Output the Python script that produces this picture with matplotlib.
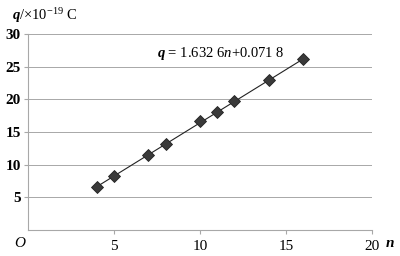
import numpy as np
import matplotlib.pyplot as plt

plt.rcParams['font.family'] = ['Liberation Serif', 'DejaVu Serif']
plt.rcParams['mathtext.fontset'] = 'custom'
plt.rcParams['mathtext.rm'] = 'Liberation Serif'
plt.rcParams['mathtext.it'] = 'Liberation Serif:italic'
plt.rcParams['mathtext.bf'] = 'Liberation Serif:italic:bold'

n = [4, 5, 7, 8, 10, 11, 12, 14, 16]
q = [6.6, 8.2, 11.5, 13.1, 16.6, 18.1, 19.7, 22.9, 26.1]
slope = 1.6326
icpt = 0.0718
xticks = [5, 10, 15, 20]
yticks = [5, 10, 15, 20, 25, 30]

fig = plt.figure(figsize=(4, 2.56), dpi=100)
ax = fig.add_axes([0.069, 0.1016, 0.862, 0.766])

xf = np.array([n[0], n[-1]])
ax.plot(xf, slope * xf + icpt, '-', color='#222222', lw=0.8, zorder=2)
ax.plot(n, q, 'D', color='#3a3a3a', markersize=6.5, markeredgecolor='#222222',
        markeredgewidth=0.6, zorder=3)

ax.set_xlim(0, 20)
ax.set_ylim(0, 30)
ax.set_xticks(xticks)
ax.set_yticks(yticks)
for y in yticks:
    ax.axhline(y, color='#a8a8a8', lw=0.7, zorder=1)
for s in ['top', 'right']:
    ax.spines[s].set_visible(False)
ax.spines['left'].set_color('#a8a8a8')
ax.spines['bottom'].set_color('#a8a8a8')
ax.tick_params(axis='x', length=3, color='#a8a8a8', labelsize=11, pad=4)
ax.tick_params(axis='y', length=3, color='#a8a8a8', labelsize=11, pad=2)
for lb in ax.get_yticklabels():
    lb.set_fontweight('bold')

ax.text(7.5, 27.0, r'$\mathbf{q}$ = 1.632 6$\mathit{n}$+0.071 8', fontsize=10.5,
        va='center', ha='left')
fig.text(0.03, 0.94, r'$\mathbf{q}$/×10$^{-19}$ C', fontsize=10.5, va='center', ha='left')
fig.text(0.035, 0.05, 'O', fontsize=11, style='italic', va='center', ha='left')
fig.text(0.963, 0.05, r'$\mathbf{n}$', fontsize=11, va='center', ha='left')

plt.savefig('out.png', dpi=100)
